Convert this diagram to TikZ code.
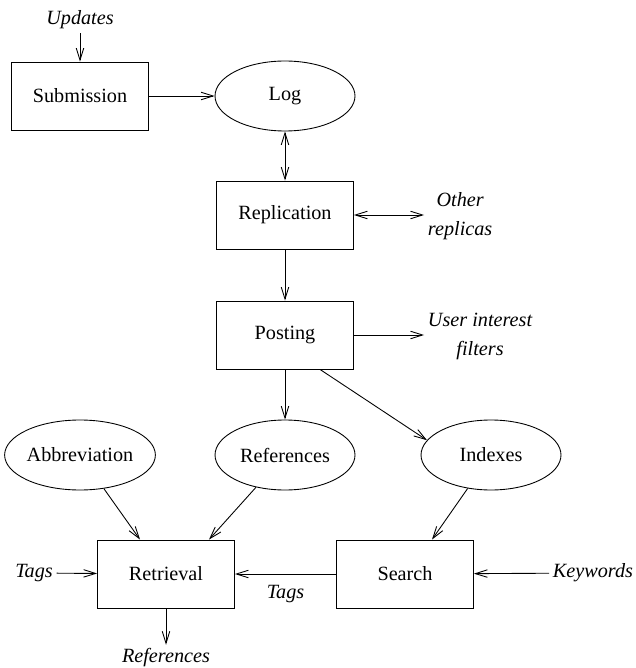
\documentclass[tikz,border=0pt]{standalone}
\usepackage{fontspec}
\setmainfont{Liberation Serif}
\usetikzlibrary{arrows.meta,shapes.geometric}

\begin{document}
\begin{tikzpicture}[x=0.02cm, y=-0.02cm, line width=0.5pt, >={Straight Barb[length=2.4mm,width=1.5mm]}]
    \tikzset{block/.style = {shape=rectangle, draw, minimum width=2.74cm, minimum height=1.36cm, font=\fontsize{11.5}{13}\selectfont}}
    \tikzset{store/.style = {shape=ellipse, draw, minimum width=2.8cm, minimum height=1.4cm, inner sep=0pt, font=\fontsize{11.5}{13}\selectfont}}
    \tikzset{tag/.style = {font=\fontsize{11.5}{16.5}\selectfont\itshape, align=center, inner sep=2pt}}
    \useasboundingbox (0,0) rectangle (635,668);

    % vertices
    \node[block] (sub) at (80,96) {Submission};
    \node[store] (log) at (285,96) {Log};
    \node[block] (repl) at (285,215) {Replication};
    \node[block] (post) at (285,335) {Posting};
    \node[store] (abbr) at (80,455) {Abbreviation};
    \node[store] (refs) at (285,455) {References};
    \node[store] (idx) at (491,455) {Indexes};
    \node[block] (retr) at (166,574) {Retrieval};
    \node[block] (srch) at (405,574) {Search};

    % texts
    \node[tag] (updates) at (80,20) {Updates};
    \node[tag, anchor=west] (others) at (424,216) {Other\\replicas};
    \node[tag, anchor=west] (userint) at (424,336) {User interest\\filters};
    \node[tag] (tagsin) at (34,573) {Tags};
    \node[tag] (keywords) at (593,573) {Keywords};
    \node[tag] (refsout) at (166,658) {References};

    % edges
    \draw [->] (updates) -- (sub);
    \draw [->] (sub) -- (log);
    \draw [<->] (log) -- (repl);
    \draw [<->] (repl) -- (repl -| others.west);
    \draw [->] (repl) -- (post);
    \draw [->] (post) -- (post -| userint.west);
    \draw [->] (post) -- (refs);
    \draw [->] ([xshift=0.7cm]post.south) -- (idx.167);
    \draw [->] (abbr) -- ([xshift=-0.52cm]retr.north);
    \draw [->] (refs) -- ([xshift=0.86cm]retr.north);
    \draw [->] (idx) -- ([xshift=0.54cm]srch.north);
    \draw [->] (tagsin) -- (retr);
    \draw [->] (srch) -- node[tag, below=4pt] (tagsmid) {Tags} (retr);
    \draw [->] (keywords) -- (srch);
    \draw [->] (retr) -- (refsout);
\end{tikzpicture}
\end{document}
